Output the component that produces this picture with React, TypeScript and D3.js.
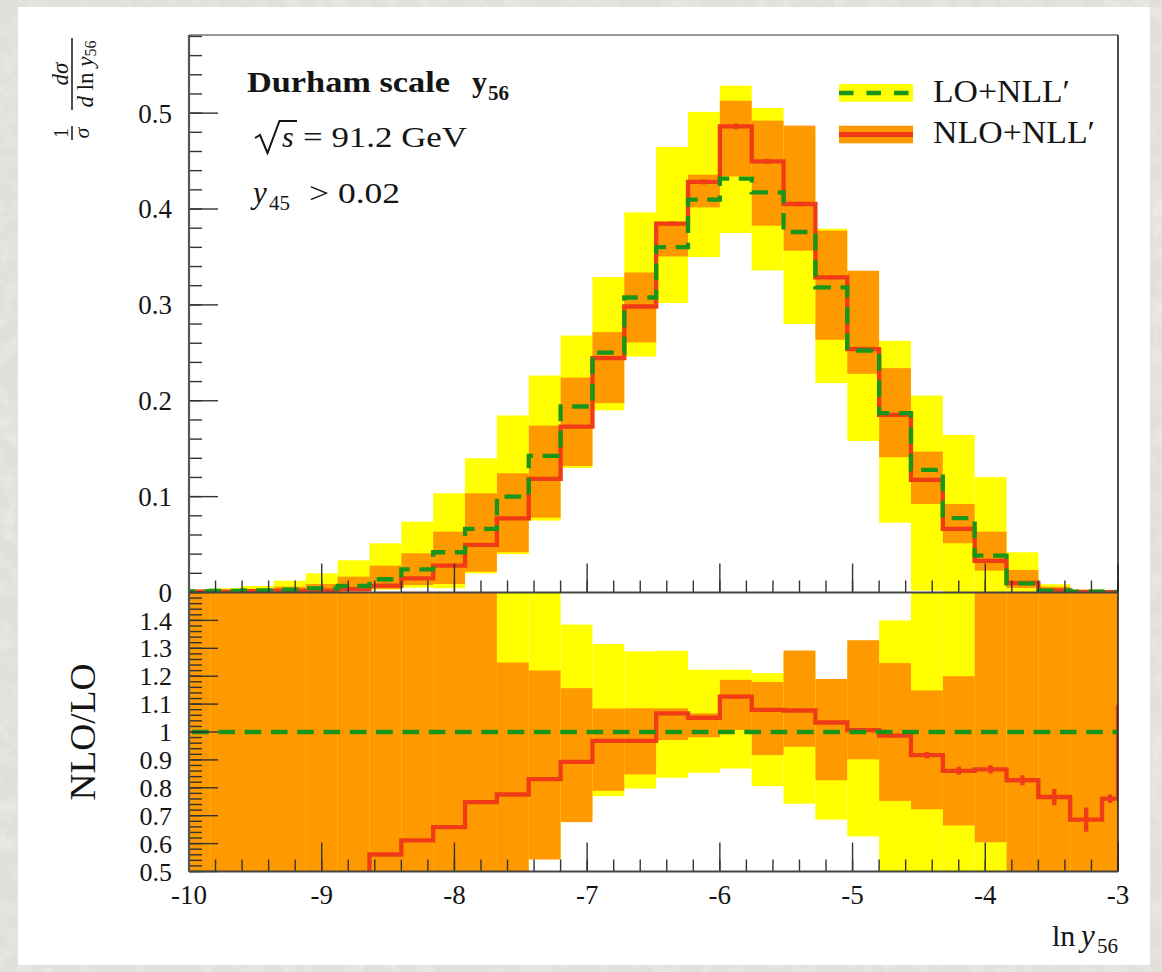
import React from 'react';
import * as d3 from 'd3';

// ---------- data ----------
const binEdges = [-10.08, -9.84, -9.6, -9.36, -9.12, -8.88, -8.64, -8.4, -8.16, -7.92, -7.68, -7.44, -7.2, -6.96, -6.72, -6.48, -6.24, -6.0, -5.76, -5.52, -5.28, -5.04, -4.8, -4.56, -4.32, -4.08, -3.84, -3.6, -3.36, -3.12, -3.0, -2.88];

// top panel: LO+NLL'
const loNll = [0.0012, 0.0016, 0.0022, 0.003, 0.0042, 0.0068, 0.0138, 0.0242, 0.042, 0.0663, 0.1, 0.1425, 0.194, 0.2503, 0.3077, 0.3603, 0.4097, 0.4316, 0.4173, 0.376, 0.3182, 0.2524, 0.187, 0.1279, 0.0775, 0.0384, 0.0096, 0.0019, 0.0008, 0.0005, 0.0004];
const loNllUp = [0.003, 0.0044, 0.0068, 0.0123, 0.02, 0.0336, 0.0513, 0.0739, 0.1035, 0.14, 0.1846, 0.2263, 0.268, 0.329, 0.3965, 0.4647, 0.5013, 0.5287, 0.5054, 0.48, 0.3794, 0.33, 0.2625, 0.2054, 0.1644, 0.1203, 0.042, 0.0086, 0.003, 0.0015, 0.001];
const loNllDn = [0, 0, 0.0005, 0.001, 0.001, 0.002, 0.003, 0.005, 0.0044, 0.02, 0.04, 0.075, 0.13, 0.19, 0.2461, 0.3019, 0.3499, 0.375, 0.3359, 0.28, 0.2184, 0.1581, 0.0729, 0.002, 0, 0, 0, 0, 0, 0, 0];
// top panel: NLO+NLL'
const nloNll = [0.0008, 0.001, 0.0014, 0.0016, 0.0019, 0.0035, 0.0071, 0.0148, 0.028, 0.0496, 0.0774, 0.1185, 0.173, 0.2445, 0.2983, 0.3847, 0.4282, 0.4862, 0.4497, 0.4052, 0.3286, 0.2539, 0.1853, 0.1174, 0.0663, 0.0329, 0.0099, 0.0019, 0.0006, 0.0004, 0.0004];
const nloNllUp = [0.0012, 0.0018, 0.0033, 0.006, 0.0089, 0.0165, 0.028, 0.0409, 0.0635, 0.1035, 0.1244, 0.1741, 0.2242, 0.2716, 0.3338, 0.3867, 0.4358, 0.513, 0.4922, 0.487, 0.3774, 0.3356, 0.234, 0.147, 0.0924, 0.0635, 0.0235, 0.006, 0.002, 0.001, 0.001];
const nloNllDn = [0, 0.0002, 0.0004, 0.0005, 0.0008, 0.001, 0.0037, 0.0078, 0.0089, 0.0217, 0.042, 0.0781, 0.132, 0.1975, 0.2608, 0.3505, 0.4017, 0.434, 0.3826, 0.3565, 0.2636, 0.2281, 0.1411, 0.0924, 0.0514, 0.0228, 0.0047, 0.001, 0.0003, 0.0001, 0];
// relative statistical error of NLO
const nloStatRel = [0.006, 0.006, 0.006, 0.006, 0.006, 0.006, 0.006, 0.006, 0.006, 0.006, 0.006, 0.006, 0.006, 0.006, 0.006, 0.006, 0.006, 0.006, 0.006, 0.006, 0.006, 0.006, 0.006, 0.012, 0.017, 0.017, 0.022, 0.038, 0.063, 0.02, 0];

// ratio panel NLO/LO
const ratioNlo = [0.3, 0.33, 0.36, 0.4, 0.44, 0.48, 0.561, 0.6115, 0.659, 0.749, 0.776, 0.831, 0.893, 0.968, 0.968, 1.067, 1.051, 1.127, 1.079, 1.077, 1.034, 1.007, 0.987, 0.917, 0.861, 0.866, 0.827, 0.767, 0.686, 0.761, 1.09];
const ratioLoUp = [2, 2, 2, 2, 2, 2, 2, 2, 2, 2, 1.85, 1.6, 1.385, 1.315, 1.289, 1.291, 1.223, 1.223, 1.211, 1.28, 1.18, 1.3, 1.4, 1.6, 2.1, 3, 4, 4, 4, 4, 4];
const ratioLoDn = [0.3, 0.3, 0.3, 0.3, 0.3, 0.3, 0.3, 0.3, 0.3, 0.3, 0.4, 0.55, 0.69, 0.77, 0.7975, 0.836, 0.854, 0.869, 0.806, 0.743, 0.686, 0.626, 0.39, 0.02, 0, 0, 0, 0, 0, 0, 0];
const ratioNloUp = [2, 2, 2, 2, 2, 2, 2, 2, 2, 2, 1.249, 1.2205, 1.157, 1.084, 1.085, 1.085, 1.067, 1.187, 1.179, 1.292, 1.19, 1.329, 1.247, 1.149, 1.2, 2, 2, 2, 2, 2, 2];
const ratioNloDn = [0.3, 0.3, 0.3, 0.3, 0.3, 0.3, 0.3, 0.3, 0.3, 0.3, 0.3, 0.543, 0.677, 0.789, 0.848, 0.971, 0.981, 1.007, 0.917, 0.947, 0.827, 0.902, 0.753, 0.723, 0.665, 0.605, 0.4, 0.3, 0.3, 0.3, 0.3];

const xTickValues = [-10, -9, -8, -7, -6, -5, -4, -3];
const xTickLabels = ['-10', '-9', '-8', '-7', '-6', '-5', '-4', '-3'];
const topTickValues = [0, 0.1, 0.2, 0.3, 0.4, 0.5];
const topTickLabels = ['0', '0.1', '0.2', '0.3', '0.4', '0.5'];
const ratioTickValues = [0.5, 0.6, 0.7, 0.8, 0.9, 1.0, 1.1, 1.2, 1.3, 1.4];
const ratioTickLabels = ['0.5', '0.6', '0.7', '0.8', '0.9', '1', '1.1', '1.2', '1.3', '1.4'];
const legendLabels = ['LO+NLL\u2032', 'NLO+NLL\u2032'];

// ---------- styles ----------
const W = 1162, H = 972;
const L = 189, R = 1118;
const TOP = 35, MID = 592.5, BOT = 871.5;
const YELLOW = '#ffff00', ORANGE = '#ff9900', RED = '#ef3b16', GREEN = '#17961a';
const INK = '#151515';
const FONT = '"Liberation Serif", "Times New Roman", serif';

export default function App() {
  const x = d3.scaleLinear().domain([-10, -3]).range([L, R]);
  const yTop = d3.scaleLinear().domain([0, 0.5815]).range([MID, TOP]);
  const yRat = d3.scaleLinear().domain([0.5, 1.5]).range([BOT, MID]);

  const nBins = binEdges.length - 1;
  const bins = d3.range(nBins);

  const stepPath = (vals: number[], y: d3.ScaleLinear<number, number>) => {
    const pts: [number, number][] = [];
    bins.forEach((i) => {
      pts.push([binEdges[i], vals[i]]);
      pts.push([binEdges[i + 1], vals[i]]);
    });
    return d3.line<[number, number]>().x((d) => x(d[0])).y((d) => y(d[1]))(pts) || '';
  };

  const bandRects = (lo: number[], hi: number[], y: d3.ScaleLinear<number, number>, fill: string, key: string) =>
    bins.map((i) => {
      const x0 = x(binEdges[i]);
      const x1 = x(binEdges[i + 1]);
      const yA = y(hi[i]);
      const yB = y(lo[i]);
      return <rect key={key + i} x={x0} y={Math.min(yA, yB)} width={x1 - x0} height={Math.abs(yB - yA)} fill={fill} />;
    });

  const errBars = (vals: number[], y: d3.ScaleLinear<number, number>, key: string) =>
    bins.map((i) => {
      const cx = x((binEdges[i] + binEdges[i + 1]) / 2);
      const e = vals[i] * nloStatRel[i];
      if (e <= 0) return null;
      return <line key={key + i} x1={cx} x2={cx} y1={y(vals[i] - e)} y2={y(vals[i] + e)} stroke={RED} strokeWidth={4.3} />;
    });

  const xMinor = d3.range(-10, -3 + 1e-9, 0.2);
  const topMinor = d3.range(0, 0.5815, 0.02);
  const ratMinor = d3.range(0.5, 1.5 + 1e-9, 0.02);
  const tickStroke = '#333';

  const xTicks = (yBase: number, key: string) => (
    <g key={key}>
      {xMinor.map((v, i) => (
        <line key={'m' + i} x1={x(v)} x2={x(v)} y1={yBase} y2={yBase - 12} stroke={tickStroke} strokeWidth={1.4} />
      ))}
      {xTickValues.map((v, i) => (
        <line key={'M' + i} x1={x(v)} x2={x(v)} y1={yBase} y2={yBase - 29} stroke={tickStroke} strokeWidth={1.4} />
      ))}
    </g>
  );

  return (
    <svg width={W} height={H} viewBox={`0 0 ${W} ${H}`} style={{ position: 'absolute', left: 0, top: 0, display: 'block' }} fontFamily={FONT}>
      <defs>
        <clipPath id="clipTop"><rect x={L} y={TOP} width={R - L} height={MID - TOP + 2.5} /></clipPath>
        <clipPath id="clipRat"><rect x={L} y={MID} width={R - L} height={BOT - MID} /></clipPath>
        <filter id="tex" x="0" y="0" width="100%" height="100%">
          <feTurbulence type="fractalNoise" baseFrequency="0.06" numOctaves="3" seed="4" result="n" />
          <feColorMatrix in="n" type="matrix" values="0 0 0 0 1  0 0 0 0 1  0 0 0 0 1  0 0 0 0.7 -0.28" />
        </filter>
      </defs>

      {/* background */}
      <rect x={0} y={0} width={W} height={H} fill="#e1dfdb" />
      <rect x={0} y={0} width={W} height={H} filter="url(#tex)" />
      <rect x={18} y={7} width={1132} height={958} fill="#ffffff" />

      {/* top panel bands and lines */}
      <g clipPath="url(#clipTop)">
        {bandRects(loNllDn, loNllUp, yTop, YELLOW, 'ty')}
        {bandRects(nloNllDn, nloNllUp, yTop, ORANGE, 'to')}
        <path d={stepPath(nloNll, yTop)} fill="none" stroke={RED} strokeWidth={4.3} />
        {errBars(nloNll, yTop, 'te')}
        <path d={stepPath(loNll, yTop)} fill="none" stroke={GREEN} strokeWidth={4.3} strokeDasharray="16.7 9.6" />
      </g>

      {/* ratio panel */}
      <g clipPath="url(#clipRat)">
        {bandRects(ratioLoDn, ratioLoUp, yRat, YELLOW, 'ry')}
        {bandRects(ratioNloDn, ratioNloUp, yRat, ORANGE, 'ro')}
        <path d={stepPath(ratioNlo, yRat)} fill="none" stroke={RED} strokeWidth={4.3} />
        {errBars(ratioNlo, yRat, 're')}
        <line x1={L} x2={R} y1={yRat(1)} y2={yRat(1)} stroke={GREEN} strokeWidth={4.3} strokeDasharray="16.7 9.6" strokeDashoffset={-3} />
      </g>

      {/* ticks */}
      {xTicks(MID, 'xt1')}
      {xTicks(BOT, 'xt2')}
      {topMinor.map((v, i) => (
        <line key={'tm' + i} x1={L} x2={L + 13} y1={yTop(v)} y2={yTop(v)} stroke={tickStroke} strokeWidth={1.4} />
      ))}
      {topTickValues.map((v, i) => (
        <line key={'tM' + i} x1={L} x2={L + 29} y1={yTop(v)} y2={yTop(v)} stroke={tickStroke} strokeWidth={1.4} />
      ))}
      {ratMinor.map((v, i) => (
        <line key={'rm' + i} x1={L} x2={L + 13} y1={yRat(v)} y2={yRat(v)} stroke={tickStroke} strokeWidth={1.4} />
      ))}
      {ratioTickValues.map((v, i) => (
        <line key={'rM' + i} x1={L} x2={L + 29} y1={yRat(v)} y2={yRat(v)} stroke={tickStroke} strokeWidth={1.4} />
      ))}

      {/* frames */}
      <line x1={L} x2={R} y1={TOP} y2={TOP} stroke="#333" strokeWidth={1.2} />
      <line x1={R} x2={R} y1={TOP} y2={BOT} stroke="#222" strokeWidth={1.6} />
      <line x1={L} x2={L} y1={TOP} y2={BOT} stroke="#555" strokeWidth={2.2} />
      <line x1={L} x2={R} y1={MID} y2={MID} stroke="#444" strokeWidth={2} />
      <line x1={L} x2={R} y1={BOT} y2={BOT} stroke="#444" strokeWidth={2} />

      {/* y tick labels */}
      {topTickValues.map((v, i) => (
        <text key={'tl' + i} x={172} y={yTop(v)} dy="0.35em" textAnchor="end" fontSize={27} fill={INK}>{topTickLabels[i]}</text>
      ))}
      {ratioTickValues.map((v, i) => (
        <text key={'rl' + i} x={172} y={yRat(v)} dy="0.35em" textAnchor="end" fontSize={26} fill={INK}>{ratioTickLabels[i]}</text>
      ))}
      {/* x tick labels */}
      {xTickValues.map((v, i) => (
        <text key={'xl' + i} x={x(v)} y={904} textAnchor="middle" fontSize={27} fill={INK}>{xTickLabels[i]}</text>
      ))}

      {/* x axis label */}
      <text x={1052} y={945.7} fontSize={30} fill={INK}>ln</text>
      <text x={1081} y={945.7} fontSize={31} fontStyle="italic" fill={INK}>y</text>
      <text x={1097} y={953} fontSize={21} fill={INK}>56</text>

      {/* ratio y label */}
      <text transform="translate(95,732) rotate(-90)" textAnchor="middle" fontSize={35} fill={INK} textLength={137} lengthAdjust="spacingAndGlyphs">NLO/LO</text>

      {/* top y label: 1/sigma dsigma/dln y56 */}
      <g transform="translate(72,140) rotate(-90)" fill={INK}>
        <line x1={0} x2={14} y1={0} y2={0} stroke={INK} strokeWidth={1.5} />
        <text x={7} y={-4} textAnchor="middle" fontSize={20}>1</text>
        <text x={7} y={17} textAnchor="middle" fontSize={22} fontStyle="italic">σ</text>
        <line x1={30} x2={102} y1={0} y2={0} stroke={INK} strokeWidth={1.5} />
        <text x={66} y={-4} textAnchor="middle" fontSize={23} fontStyle="italic">dσ</text>
        <text x={66} y={21} textAnchor="middle" fontSize={23}>
          <tspan fontStyle="italic">d</tspan>
          <tspan> ln </tspan>
          <tspan fontStyle="italic">y</tspan>
          <tspan fontSize={16} dy={3}>56</tspan>
        </text>
      </g>

      {/* annotations */}
      <text x={247} y={91.7} fontSize={29} fontWeight="bold" fill={INK} textLength={203} lengthAdjust="spacingAndGlyphs">Durham scale</text>
      <text x={472} y={91.7} fontSize={30} fontWeight="bold" fill={INK}>y</text>
      <text x={488} y={100} fontSize={21} fontWeight="bold" fill={INK}>56</text>

      <path d="M255,138 L260,135 L267.5,153 L279.5,121 L297,121" fill="none" stroke={INK} strokeWidth={2} />
      <text x={282} y={146.7} fontSize={30} fontStyle="italic" fill={INK}>s</text>
      <text x={303} y={146.7} fontSize={30} fill={INK} textLength={164} lengthAdjust="spacingAndGlyphs">= 91.2 GeV</text>

      <text x={253} y={203.3} fontSize={31} fontStyle="italic" fill={INK}>y</text>
      <text x={269} y={210} fontSize={21} fill={INK}>45</text>
      <text x={309} y={203.3} fontSize={30} fill={INK} textLength={91} lengthAdjust="spacingAndGlyphs">&gt; 0.02</text>

      {/* legend */}
      <rect x={839} y={84} width={74} height={17.7} fill={YELLOW} />
      <line x1={839} x2={913} y1={93} y2={93} stroke={GREEN} strokeWidth={4.3} strokeDasharray="14.5 13" />
      <text x={933} y={101.7} fontSize={31} fill={INK} textLength={137} lengthAdjust="spacingAndGlyphs">{legendLabels[0]}</text>
      <rect x={839} y={125.7} width={74} height={17.6} fill={ORANGE} />
      <line x1={839} x2={913} y1={134.5} y2={134.5} stroke={RED} strokeWidth={5} />
      <text x={933} y={143.3} fontSize={31} fill={INK} textLength={162} lengthAdjust="spacingAndGlyphs">{legendLabels[1]}</text>
    </svg>
  );
}
